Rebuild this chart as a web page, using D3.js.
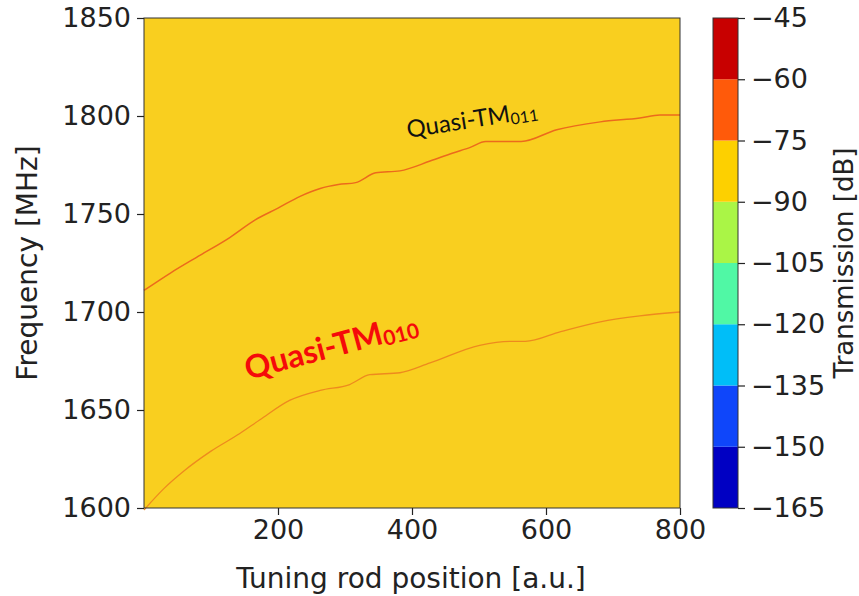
<!DOCTYPE html>
<html>
<head>
<meta charset="utf-8">
<script src="https://cdn.jsdelivr.net/npm/d3@7"></script>
<style>
  html, body { margin: 0; padding: 0; background: #fff; }
  svg text { font-family: "DejaVu Sans", sans-serif; }
</style>
</head>
<body>
<svg id="chart" width="859" height="596"></svg>
<script>
// ---------- data ----------
const xTicks = [200, 400, 600, 800];
const yTicks = [1600, 1650, 1700, 1750, 1800, 1850];
const cbTicks = [-45, -60, -75, -90, -105, -120, -135, -150, -165];
const cbColors = ["#0000c3", "#0f46fa", "#00bef8", "#50f8a5", "#aaf546", "#fdd000", "#ff5a0a", "#c80000"];
const backgroundLevel = -83; // dB, transmission away from the resonances

const tm011Pos  = [0, 40, 84, 128, 166, 200, 233, 263, 290, 316, 346, 382, 427, 460, 487, 510, 563, 616, 681, 740, 770, 800];
const tm011Freq = [1711, 1720, 1729, 1738, 1747, 1753, 1759, 1763, 1765, 1766, 1771, 1772, 1777, 1781, 1784, 1787, 1787, 1793, 1797, 1799, 1800.5, 1800.5];

const tm010Pos  = [0, 30, 60, 100, 143, 173, 218, 263, 307, 337, 382, 427, 501, 546, 569, 622, 681, 740, 800];
const tm010Freq = [1599, 1610, 1619, 1629, 1638, 1645, 1655, 1660, 1663, 1668, 1669, 1674, 1683, 1685, 1685, 1690, 1695, 1698, 1700];

// ---------- layout ----------
const svg = d3.select("#chart");
const L = 144, R = 680, T = 18, B = 508;
const x = d3.scaleLinear().domain([0, 800]).range([L, R]);
const y = d3.scaleLinear().domain([1600, 1850]).range([B, T]);

const color = d3.scaleQuantize().domain([-165, -45]).range(cbColors);

// heatmap background (value falls in the -90..-75 dB bin)
svg.append("rect")
  .attr("x", x(0)).attr("y", y(1850))
  .attr("width", x(800) - x(0)).attr("height", y(1600) - y(1850))
  .attr("fill", color(backgroundLevel) === "#fdd000" ? "#f9cf1f" : color(backgroundLevel));

// resonance lines
const line = d3.line().x(d => x(d[0])).y(d => y(d[1])).curve(d3.curveMonotoneX);
svg.append("path")
  .datum(d3.zip(tm011Pos, tm011Freq))
  .attr("d", line)
  .attr("fill", "none").attr("stroke", "#ec6a1c").attr("stroke-width", 1.5);
svg.append("path")
  .datum(d3.zip(tm010Pos, tm010Freq))
  .attr("d", line)
  .attr("fill", "none").attr("stroke", "#ee8a1e").attr("stroke-width", 1.3);

// frame
svg.append("rect")
  .attr("x", L).attr("y", T).attr("width", R - L).attr("height", B - T)
  .attr("fill", "none").attr("stroke", "#333").attr("stroke-width", 1);

// axes
const fs = 27;
const gx = svg.append("g").attr("transform", `translate(0,${B})`)
  .call(d3.axisBottom(x).tickValues(xTicks).tickSize(7).tickPadding(5));
const gy = svg.append("g").attr("transform", `translate(${L},0)`)
  .call(d3.axisLeft(y).tickValues(yTicks).tickSize(7).tickPadding(6).tickFormat(d3.format("d")));
[gx, gy].forEach(g => {
  g.select(".domain").remove();
  g.selectAll(".tick line").attr("stroke", "#222").attr("stroke-width", 1.2);
  g.selectAll(".tick text").attr("fill", "#222").style("font-size", fs + "px")
    .style("font-family", "'DejaVu Sans', sans-serif");
});

svg.append("text")
  .attr("x", (L + R) / 2 - 1).attr("y", 588)
  .attr("text-anchor", "middle").attr("fill", "#222")
  .style("font-size", "28px").text("Tuning rod position [a.u.]");
svg.append("text")
  .attr("transform", `translate(37,${(T + B) / 2}) rotate(-90)`)
  .attr("text-anchor", "middle").attr("fill", "#222")
  .style("font-size", "28px").text("Frequency [MHz]");

// colorbar
const cbL = 713, cbW = 25;
const cy = d3.scaleLinear().domain([-165, -45]).range([B, T]);
const bins = d3.range(cbColors.length).map(i => [-165 + 15 * i, -150 + 15 * i]);
svg.append("g").selectAll("rect").data(bins).join("rect")
  .attr("x", cbL).attr("y", d => cy(d[1]))
  .attr("width", cbW).attr("height", d => cy(d[0]) - cy(d[1]))
  .attr("fill", d => color((d[0] + d[1]) / 2));
svg.append("rect").attr("x", cbL).attr("y", T).attr("width", cbW).attr("height", B - T)
  .attr("fill", "none").attr("stroke", "#333").attr("stroke-width", 1);
const gc = svg.append("g").attr("transform", `translate(${cbL + cbW},0)`)
  .call(d3.axisRight(cy).tickValues(cbTicks).tickSize(7).tickPadding(6)
    .tickFormat(d => "\u2212" + Math.abs(d)));
gc.select(".domain").remove();
gc.selectAll(".tick line").attr("stroke", "#222").attr("stroke-width", 1.2);
gc.selectAll(".tick text").attr("fill", "#222").style("font-size", fs + "px");
svg.append("text")
  .attr("transform", `translate(853,${(T + B) / 2}) rotate(-90)`)
  .attr("text-anchor", "middle").attr("fill", "#222")
  .style("font-size", "26px").text("Transmission [dB]");

// annotations
const a1 = svg.append("text")
  .attr("transform", "translate(408,138) rotate(-9)")
  .style("font-family", "Lato, 'Open Sans', sans-serif")
  .style("font-size", "24px").attr("fill", "#111");
a1.append("tspan").text("Quasi-TM");
a1.append("tspan").attr("dy", 3).style("font-size", "16px").text("011");

const a2 = svg.append("text")
  .attr("transform", "translate(248,380) rotate(-15)")
  .style("font-family", "Lato, 'Open Sans', sans-serif")
  .style("font-size", "32px").style("font-weight", "bold").attr("fill", "#f50a0a");
a2.append("tspan").text("Quasi-TM");
a2.append("tspan").attr("dy", 3).style("font-size", "21px").text("010");
</script>
</body>
</html>
